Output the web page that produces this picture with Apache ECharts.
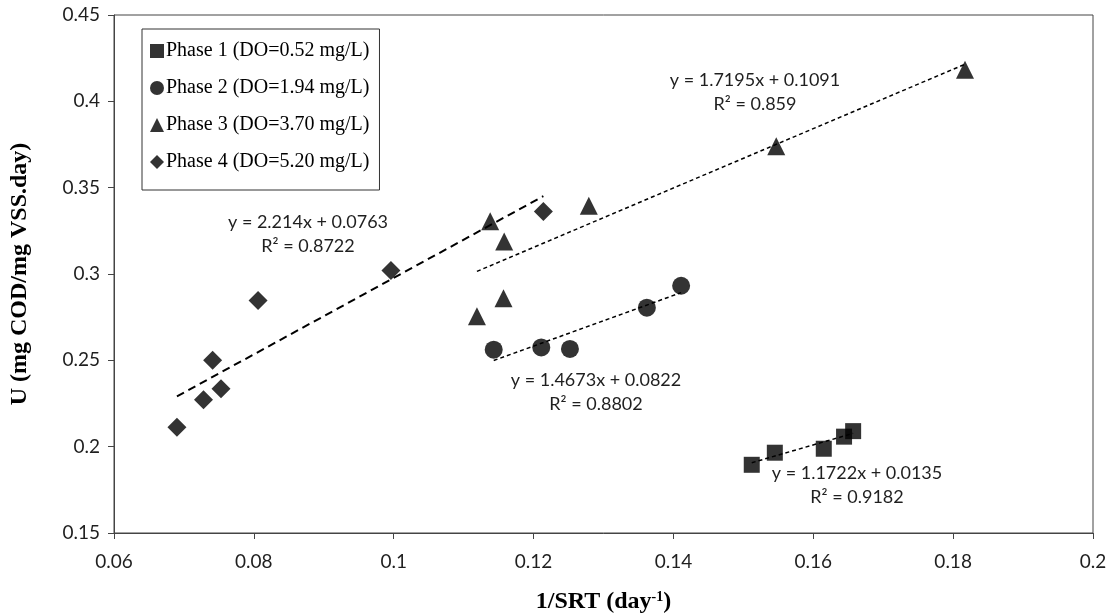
<!DOCTYPE html>
<html>
<head>
<meta charset="utf-8">
<script src="https://cdn.jsdelivr.net/npm/echarts@6/dist/echarts.min.js"></script>
<style>
html,body{margin:0;padding:0;background:#fff;}
#c{width:1119px;height:616px;}
</style>
</head>
<body>
<div id="c"></div>
<script>
// ---- data ----
const seriesNames = [
  'Phase 1 (DO=0.52 mg/L)',
  'Phase 2 (DO=1.94 mg/L)',
  'Phase 3 (DO=3.70 mg/L)',
  'Phase 4 (DO=5.20 mg/L)'
];
const phase1X = [0.1512, 0.1545, 0.1615, 0.1644, 0.1657];
const phase1Y = [0.1895, 0.1965, 0.1988, 0.2058, 0.2090];
const phase2X = [0.1143, 0.1211, 0.1252, 0.1362, 0.1411];
const phase2Y = [0.2562, 0.2575, 0.2566, 0.2805, 0.2932];
const phase3X = [0.1119, 0.1138, 0.1157, 0.1158, 0.1279, 0.1547, 0.1817];
const phase3Y = [0.2755, 0.3305, 0.2860, 0.3188, 0.3395, 0.3740, 0.4183];
const phase4X = [0.0690, 0.0728, 0.0741, 0.0753, 0.0806, 0.0996, 0.1214];
const phase4Y = [0.2112, 0.2272, 0.2500, 0.2336, 0.2846, 0.3020, 0.3362];
// trendline end points (from the fitted equations shown)
const trend1 = [[0.1512, 0.1907], [0.1657, 0.2077]];
const trend2 = [[0.1143, 0.2499], [0.1411, 0.2892]];
const trend3 = [[0.1119, 0.3015], [0.1817, 0.4215]];
const trend4 = [[0.0690, 0.2291], [0.1214, 0.3451]];
const equations = [
  ['y = 1.1722x + 0.0135', 'R\u00b2 = 0.9182'],
  ['y = 1.4673x + 0.0822', 'R\u00b2 = 0.8802'],
  ['y = 1.7195x + 0.1091', 'R\u00b2 = 0.859'],
  ['y = 2.214x + 0.0763',  'R\u00b2 = 0.8722']
];
const xTitle = '1/SRT (day';
const xTitleSup = '-1';
const yTitle = 'U (mg COD/mg VSS.day)';

// ---- layout / style ----
const eqPos = [[857, 473], [596, 380], [755, 80], [308, 222]]; // pixel centre of first line
const symbols = ['rect', 'circle', 'triangle', 'diamond'];
const symSizes = [16, 18, 18, 19];
const FONT = 'Lato, "Open Sans", sans-serif';

function zip(xs, ys) { return xs.map((x, i) => [x, ys[i]]); }
const pts = [zip(phase1X, phase1Y), zip(phase2X, phase2Y), zip(phase3X, phase3Y), zip(phase4X, phase4Y)];
const trends = [trend1, trend2, trend3, trend4];

const chart = echarts.init(document.getElementById('c'), null, {renderer: 'canvas'});
const tickFont = {fontFamily: FONT, fontSize: 19, color: '#1f1f1f'};
const series = [];
trends.forEach((t, i) => {
  series.push({
    name: 'trend' + (i + 1), type: 'line', data: t, symbol: 'none', silent: true,
    lineStyle: i === 3 ? {color: '#000', width: 2, type: [8, 5]} : {color: '#000', width: 1.5, type: [4, 3]},
    z: 1
  });
});
pts.forEach((p, i) => {
  series.push({
    name: seriesNames[i], type: 'scatter', data: p, symbol: symbols[i], symbolSize: symSizes[i],
    itemStyle: {color: '#000'}, z: 3
  });
});

const graphics = [];
equations.forEach((e, i) => {
  graphics.push({type: 'text', x: eqPos[i][0], y: eqPos[i][1],
    style: {text: e[0], fill: '#1f1f1f', font: '18px ' + FONT, textAlign: 'center', textVerticalAlign: 'middle'}});
  graphics.push({type: 'text', x: eqPos[i][0], y: eqPos[i][1] + 24,
    style: {text: e[1], fill: '#1f1f1f', font: '18px ' + FONT, textAlign: 'center', textVerticalAlign: 'middle'}});
});

chart.setOption({
  animation: false,
  backgroundColor: '#fff',
  grid: {left: 114, right: 26, top: 15, bottom: 83, containLabel: false, outerBoundsMode: 'none',
         show: true, borderColor: '#444', borderWidth: 1},
  legend: {
    data: seriesNames.map((n, i) => ({name: n, icon: symbols[i]})),
    orient: 'vertical', left: 142, top: 29,
    backgroundColor: '#fff', borderColor: '#333', borderWidth: 1,
    padding: [12, 10, 18, 8], itemGap: 17, itemWidth: 14, itemHeight: 14,
    textStyle: {fontFamily: '"Liberation Serif", "Times New Roman", serif', fontSize: 20, color: '#000', padding: [0, 0, 0, -3]},
    selectedMode: false
  },
  xAxis: {
    type: 'value', min: 0.06, max: 0.2, interval: 0.02,
    axisLine: {lineStyle: {color: '#444'}},
    axisTick: {show: true, length: 6, lineStyle: {color: '#444'}},
    splitLine: {show: false},
    axisLabel: Object.assign({margin: 19, formatter: v => String(+v.toFixed(2))}, tickFont),
    name: '{a|' + xTitle + '}{s|' + xTitleSup + '}{a|)}',
    nameLocation: 'middle', nameGap: 57,
    nameTextStyle: {rich: {
      a: {fontFamily: '"Liberation Serif", serif', fontWeight: 'bold', fontSize: 24, color: '#000'},
      s: {fontFamily: '"Liberation Serif", serif', fontWeight: 'bold', fontSize: 14, color: '#000', verticalAlign: 'bottom', padding: [0, 0, 10, 0]}
    }}
  },
  yAxis: {
    type: 'value', min: 0.15, max: 0.45, interval: 0.05,
    axisLine: {show: true, lineStyle: {color: '#444'}},
    axisTick: {show: true, length: 6, lineStyle: {color: '#444'}},
    splitLine: {show: false},
    axisLabel: Object.assign({margin: 14, formatter: v => String(+v.toFixed(2))}, tickFont),
    name: yTitle, nameLocation: 'middle', nameGap: 82, nameRotate: 90,
    nameTextStyle: {fontFamily: '"Liberation Serif", serif', fontWeight: 'bold', fontSize: 24, color: '#000'}
  },
  series: series,
  graphic: graphics
});
</script>
</body>
</html>
